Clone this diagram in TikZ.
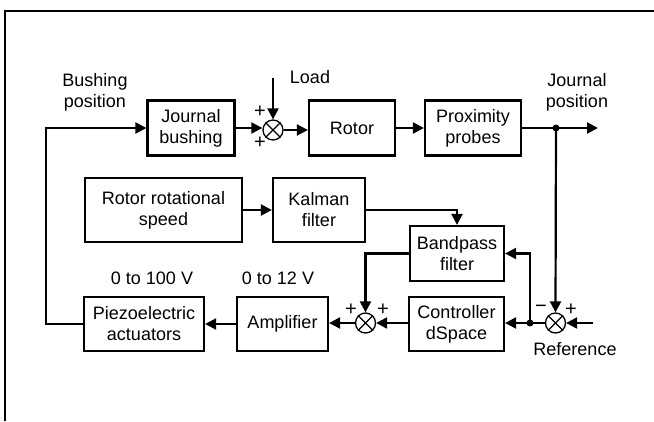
\documentclass[tikz,border=0pt]{standalone}
\usepackage{fontspec}
\setmainfont{Liberation Sans}
\usetikzlibrary{arrows.meta}
\begin{document}
\begin{tikzpicture}[x=1pt,y=-1pt,
  every node/.style={font=\fontsize{18}{21}\selectfont, inner sep=0pt},
  blk/.style={draw, line width=2.2pt, align=center},
  sumj/.style={draw, circle, line width=1.3pt, minimum size=20pt},
  lab/.style={align=center},
  sgn/.style={font=\fontsize{20}{21}\selectfont},
  conn/.style={line width=2.2pt},
  arr/.style={conn, -{Triangle[length=11pt,width=11pt]}},
  dotn/.style={circle, fill=black, minimum size=7pt}
]
\useasboundingbox (0,0) rectangle (654,421);
\draw[line width=2.5pt] (5,421) -- (5,11) -- (654,11);

% top row
\node[blk, minimum width=87pt, minimum height=55pt] (jb) at (191,128) {Journal\\bushing};
\node[sumj] (s1) at (273,130) {};
\node[blk, minimum width=86pt, minimum height=55pt] (rot) at (352,128) {Rotor};
\node[blk, minimum width=96pt, minimum height=55pt] (pp) at (473,128) {Proximity\\probes};
\node[dotn] (d1) at (556,128) {};
\coordinate (out) at (598,128);
\coordinate (load) at (273,78);

% middle row
\node[blk, minimum width=157pt, minimum height=64pt] (rrs) at (163.5,210) {Rotor rotational\\speed};
\node[blk, minimum width=92pt, minimum height=64pt] (kal) at (319,210) {Kalman\\filter};
\node[blk, minimum width=94pt, minimum height=55pt] (bp) at (457,253.5) {Bandpass\\filter};

% bottom row
\node[blk, minimum width=120pt, minimum height=54pt] (pz) at (144,324) {Piezoelectric\\actuators};
\node[blk, minimum width=91pt, minimum height=54pt] (amp) at (282.5,324) {Amplifier};
\node[sumj] (s2) at (365.5,323) {};
\node[blk, minimum width=95pt, minimum height=54pt] (ctl) at (456.5,324) {Controller\\dSpace};
\node[dotn] (d2) at (530,323) {};
\node[sumj] (s3) at (555.5,323) {};
\coordinate (ref) at (593,323);

% crosses
\foreach \s in {s1,s2,s3}{
  \draw[line width=1.3pt] (\s.north west) -- (\s.south east) (\s.north east) -- (\s.south west);
}

% labels
\node[lab] (lbp) at (95,92) {Bushing\\position};
\node[lab] (ljp) at (577,92) {Journal\\position};
\node (lload) at (310,77) {Load};
\node (lref) at (575,349) {Reference};
\node (l100) at (152,278) {0 to 100 V};
\node (l12) at (278,278) {0 to 12 V};
\node[sgn] (p1a) at (260,112) {+};
\node[sgn] (p1b) at (260,143) {+};
\node[sgn] (p2a) at (351,310) {+};
\node[sgn] (p2b) at (383,310) {+};
\node[sgn] (m3) at (541,309) {\textminus};
\node[sgn] (p3) at (571,310) {+};

% connectors
\draw[arr] (pz.west) -- ++(-37,0) |- (jb.west);
\draw[arr] (jb.east) -- (jb.east -| s1.west);
\draw[arr] (load) -- (s1.north);
\draw[arr] (s1.east) -- (s1.east -| rot.west);
\draw[arr] (rot.east) -- (pp.west);
\draw[conn] (pp.east) -- (d1.center);
\draw[arr] (d1.center) -- (out);
\draw[arr] (d1.center) -- (s3.north);
\draw[arr] (ref) -- (s3.east);
\draw[conn] (s3.west) -- (d2.center);
\draw[arr] (d2.center) -- (d2.center -| ctl.east);
\draw[arr] (d2.center) |- (bp.east);
\draw[arr] (rrs.east) -- (kal.west);
\draw[arr] (kal.east) -| (bp.north);
\draw[arr] (bp.west) -| (s2.north);
\draw[arr] (s2.east -| ctl.west) -- (s2.east);
\draw[arr] (s2.west) -- (s2.west -| amp.east);
\draw[arr] (amp.west) -- (pz.east);
\end{tikzpicture}
\end{document}
